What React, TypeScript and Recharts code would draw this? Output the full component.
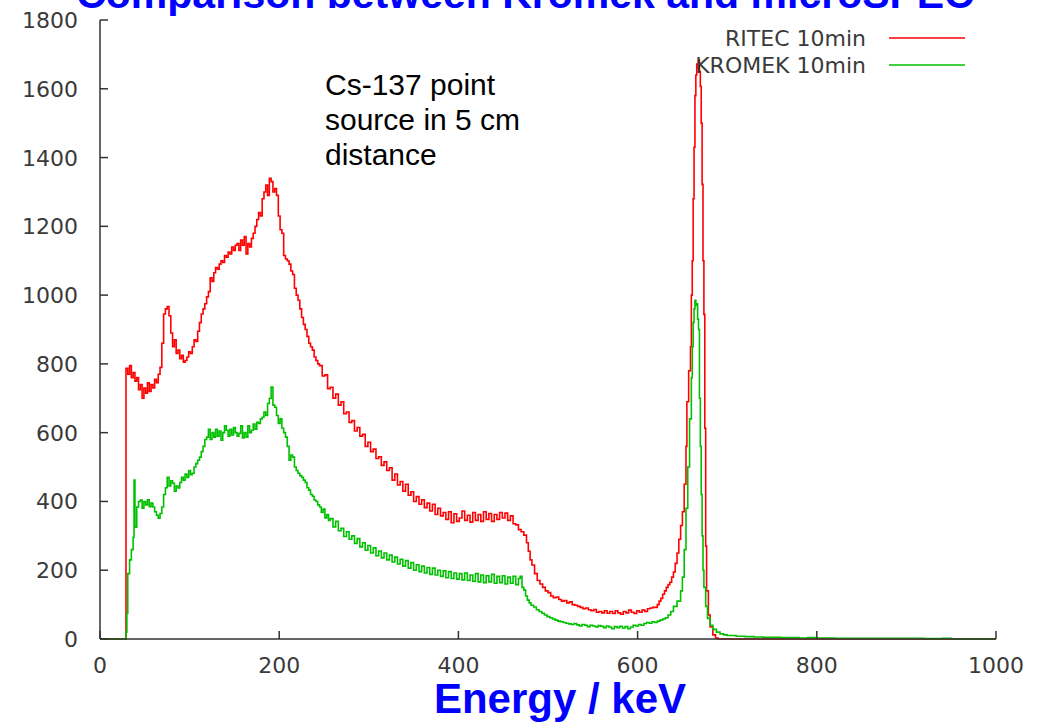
import React from 'react';
import { LineChart, Line, XAxis, YAxis, Legend } from 'recharts';

// [energy keV, counts]
const RITEC_10MIN: [number, number][] = [
  [0, 0], [28, 0], [29, 787], [31, 770], [33, 795], [35, 760], [37, 775], [39, 750],
  [41, 760], [43, 725], [45, 740], [47, 700], [49, 730], [51, 715], [53, 745], [55, 720],
  [57, 740], [59, 730], [61, 755], [63, 745], [65, 770], [67, 790], [69, 860], [71, 945],
  [73, 960], [75, 967], [77, 940], [79, 890], [81, 850], [83, 870], [85, 830], [87, 840],
  [89, 815], [91, 825], [93, 805], [95, 810], [97, 820], [99, 835], [101, 830], [103, 850],
  [105, 870], [107, 865], [109, 895], [111, 920], [113, 945], [115, 960], [117, 975], [119, 995],
  [121, 1010], [123, 1050], [125, 1040], [127, 1065], [129, 1080], [131, 1075], [133, 1090], [135, 1100],
  [137, 1095], [139, 1115], [141, 1110], [143, 1125], [145, 1120], [147, 1140], [149, 1130], [151, 1145],
  [153, 1150], [155, 1130], [157, 1160], [159, 1145], [161, 1170], [163, 1120], [165, 1150], [167, 1140],
  [169, 1165], [171, 1180], [173, 1200], [175, 1220], [177, 1240], [179, 1230], [181, 1280], [183, 1300],
  [185, 1320], [187, 1290], [189, 1340], [191, 1330], [193, 1300], [195, 1310], [197, 1290], [199, 1230],
  [201, 1190], [203, 1180], [205, 1115], [207, 1105], [209, 1100], [211, 1090], [213, 1070], [215, 1060],
  [217, 1020], [219, 1000], [221, 985], [223, 960], [225, 935], [227, 915], [229, 900], [231, 880],
  [233, 860], [235, 850], [237, 840], [239, 820], [241, 810], [243, 800], [245, 795], [248, 765],
  [251, 768], [254, 728], [257, 732], [260, 700], [263, 712], [266, 680], [269, 690], [272, 655],
  [275, 660], [278, 630], [281, 635], [284, 605], [287, 615], [290, 590], [293, 595], [296, 560],
  [299, 572], [302, 545], [305, 552], [308, 525], [311, 530], [314, 505], [317, 515], [320, 490],
  [323, 498], [326, 462], [329, 480], [332, 448], [335, 458], [338, 430], [341, 450], [344, 418],
  [347, 428], [350, 400], [353, 414], [356, 392], [359, 405], [362, 382], [365, 395], [368, 372],
  [371, 392], [374, 362], [377, 380], [380, 358], [383, 368], [386, 348], [389, 370], [392, 338],
  [395, 364], [398, 342], [401, 352], [404, 372], [407, 345], [410, 360], [413, 340], [416, 368],
  [419, 345], [422, 362], [425, 342], [428, 370], [431, 348], [434, 365], [437, 342], [440, 362],
  [443, 348], [446, 368], [449, 352], [452, 366], [455, 345], [458, 358], [461, 335], [464, 332],
  [467, 318], [470, 312], [473, 302], [476, 280], [478, 255], [480, 230], [482, 215], [485, 190],
  [488, 170], [491, 160], [494, 150], [497, 140], [500, 135], [503, 125], [506, 120], [509, 122],
  [512, 115], [515, 110], [518, 112], [521, 105], [524, 108], [527, 100], [530, 98], [533, 95],
  [536, 92], [539, 88], [542, 90], [545, 85], [548, 82], [551, 86], [554, 78], [557, 80],
  [560, 76], [563, 82], [566, 75], [569, 80], [572, 74], [575, 82], [578, 76], [581, 72],
  [584, 80], [587, 76], [590, 84], [593, 78], [596, 74], [599, 82], [602, 78], [605, 84],
  [608, 80], [611, 88], [614, 90], [617, 92], [620, 92], [622, 100], [624, 110], [626, 118],
  [628, 130], [630, 140], [632, 150], [634, 158], [636, 165], [638, 180], [640, 195], [642, 220],
  [644, 250], [646, 290], [648, 330], [650, 370], [652, 450], [654, 560], [655, 690], [657, 780],
  [659, 850], [660, 1000], [661, 1100], [662, 1280], [663, 1430], [664, 1580], [665, 1640], [666, 1672],
  [667, 1660], [668, 1683], [669, 1650], [670, 1607], [671, 1500], [672, 1322], [673, 1100], [674, 944],
  [675, 613], [676, 270], [677, 140], [679, 70], [681, 35], [684, 12], [687, 3], [690, 0],
  [1000, 0],
];

const KROMEK_10MIN: [number, number][] = [
  [0, 0], [28, 0], [29, 20], [30, 75], [31, 190], [33, 230], [35, 260], [37, 296],
  [38, 462], [39, 325], [41, 384], [43, 400], [45, 404], [47, 380], [49, 400], [51, 390],
  [53, 405], [55, 385], [57, 395], [59, 384], [61, 370], [63, 360], [65, 351], [67, 365],
  [69, 384], [71, 420], [73, 440], [75, 470], [77, 445], [79, 460], [81, 453], [83, 430],
  [85, 445], [87, 439], [89, 455], [91, 470], [93, 462], [95, 480], [97, 470], [99, 490],
  [101, 478], [103, 482], [105, 500], [107, 510], [109, 520], [111, 529], [113, 545], [115, 560],
  [117, 580], [119, 587], [121, 610], [123, 580], [125, 600], [127, 587], [129, 610], [131, 590],
  [133, 605], [135, 578], [137, 600], [139, 620], [141, 607], [143, 590], [145, 610], [147, 593],
  [149, 615], [151, 600], [153, 590], [155, 598], [157, 620], [159, 585], [161, 600], [163, 587],
  [165, 620], [167, 600], [169, 607], [171, 625], [173, 610], [175, 630], [177, 627], [179, 640],
  [181, 645], [183, 660], [185, 650], [187, 685], [189, 700], [191, 733], [193, 680], [195, 674],
  [197, 650], [199, 627], [201, 640], [203, 613], [205, 600], [207, 587], [209, 560], [211, 520],
  [213, 535], [215, 529], [217, 500], [219, 490], [221, 482], [223, 475], [225, 470], [227, 462],
  [229, 455], [231, 440], [233, 433], [235, 420], [237, 415], [239, 404], [241, 400], [243, 390],
  [245, 384], [247, 368], [249, 378], [251, 352], [253, 362], [255, 345], [257, 350], [260, 326],
  [263, 342], [266, 315], [269, 322], [272, 298], [275, 312], [278, 290], [281, 300], [284, 278],
  [287, 292], [290, 268], [293, 280], [296, 258], [299, 272], [302, 250], [305, 265], [308, 242],
  [311, 256], [314, 236], [317, 250], [320, 230], [323, 244], [326, 224], [329, 238], [332, 218],
  [335, 232], [338, 212], [341, 228], [344, 206], [347, 222], [350, 200], [353, 216], [356, 196],
  [359, 212], [362, 192], [365, 208], [368, 188], [371, 206], [374, 186], [377, 200], [380, 182],
  [383, 198], [386, 178], [389, 196], [392, 176], [395, 192], [398, 174], [401, 190], [404, 172],
  [407, 192], [410, 170], [413, 186], [416, 168], [419, 190], [422, 166], [425, 186], [428, 164],
  [431, 184], [434, 166], [437, 188], [440, 162], [443, 182], [446, 164], [449, 184], [452, 160],
  [455, 180], [458, 162], [461, 182], [464, 158], [467, 176], [469, 182], [471, 150], [473, 142],
  [475, 125], [477, 113], [479, 105], [481, 98], [484, 93], [487, 85], [490, 80], [493, 75],
  [496, 70], [499, 65], [502, 62], [505, 58], [508, 55], [511, 52], [514, 50], [517, 48],
  [520, 46], [523, 44], [526, 42], [529, 45], [532, 41], [535, 38], [538, 42], [541, 40],
  [544, 36], [547, 40], [550, 38], [553, 35], [556, 39], [559, 37], [562, 33], [565, 38],
  [568, 35], [571, 30], [574, 36], [577, 33], [580, 37], [583, 32], [586, 36], [589, 30],
  [592, 35], [595, 40], [598, 38], [601, 42], [604, 40], [607, 45], [610, 48], [613, 46],
  [616, 50], [619, 48], [622, 52], [625, 55], [628, 58], [631, 62], [634, 70], [637, 80],
  [640, 95], [644, 110], [648, 140], [650, 180], [652, 260], [654, 380], [656, 500], [658, 640],
  [660, 760], [661, 850], [662, 920], [663, 960], [664, 985], [665, 970], [666, 975], [667, 930],
  [668, 900], [669, 700], [670, 560], [671, 420], [672, 300], [673, 200], [674, 150], [676, 95],
  [678, 60], [681, 40], [684, 28], [688, 20], [692, 15], [696, 12], [700, 10], [710, 8],
  [720, 7], [730, 6], [740, 5], [750, 5], [760, 4], [770, 4], [780, 3], [790, 4],
  [800, 3], [810, 3], [820, 2], [840, 2], [860, 2], [880, 2], [900, 2], [920, 1],
  [940, 2], [950, 0], [1000, 0],
];

const SERIES_NAMES = ['RITEC 10min', 'KROMEK 10min'];
const X_TICKS = [0, 200, 400, 600, 800, 1000];
const Y_TICKS = [0, 200, 400, 600, 800, 1000, 1200, 1400, 1600, 1800];
const NOTE_LINES = ['Cs-137 point', 'source in 5 cm', 'distance'];

const FRAME = '#333333';
const TICK_FONT = '"DejaVu Sans", sans-serif';
const TICK_FILL = '#3a3a3a';

const ritecData = RITEC_10MIN.map(([e, c]) => ({ e, c }));
const kromekData = KROMEK_10MIN.map(([e, c]) => ({ e, c }));

const BottomTick = ({ x, y, payload }: any) => (
  <g>
    <line x1={x} y1={y} x2={x} y2={y - 8} stroke={FRAME} strokeWidth={1.5} />
    <text x={x} y={y + 34} textAnchor="middle" fontFamily={TICK_FONT} fontSize={22} fill={TICK_FILL}>
      {payload.value}
    </text>
  </g>
);

const TopTick = ({ x, y }: any) => (
  <line x1={x} y1={y} x2={x} y2={y + 8} stroke={FRAME} strokeWidth={1.5} />
);

const LeftTick = ({ x, y, payload }: any) => (
  <g>
    <line x1={x} y1={y} x2={x + 8} y2={y} stroke={FRAME} strokeWidth={1.5} />
    <text x={x - 22} y={y + 8} textAnchor="end" fontFamily={TICK_FONT} fontSize={22} fill={TICK_FILL}>
      {payload.value}
    </text>
  </g>
);

const RightTick = ({ x, y }: any) => (
  <line x1={x} y1={y} x2={x - 8} y2={y} stroke={FRAME} strokeWidth={1.5} />
);

const LegendBox = ({ payload }: any) => {
  const items = [...(payload || [])].sort(
    (a: any, b: any) => SERIES_NAMES.indexOf(a.value) - SERIES_NAMES.indexOf(b.value)
  );
  return (
    <svg width={400} height={60}>
      {items.map((p: any, i: number) => (
        <g key={p.value}>
          <text x={266} y={21 + i * 27} textAnchor="end" fontFamily={TICK_FONT} fontSize={22} fill={TICK_FILL}>
            {p.value}
          </text>
          <line x1={289} y1={13 + i * 27} x2={365} y2={13 + i * 27} stroke={p.color} strokeWidth={1.5} />
        </g>
      ))}
    </svg>
  );
};

export default function App() {
  return (
    <div style={{ position: 'absolute', left: 0, top: 0, width: 1039, height: 722, background: '#fff' }}>
      <LineChart width={1039} height={722} margin={{ top: 20, right: 43, bottom: 0, left: 0 }}>
        <XAxis
          xAxisId="b"
          dataKey="e"
          type="number"
          domain={[0, 1000]}
          ticks={X_TICKS}
          interval={0}
          height={83}
          tickSize={0}
          tickMargin={0}
          tickLine={false}
          axisLine={{ stroke: FRAME, strokeWidth: 1.5 }}
          tick={<BottomTick />}
        />
        <XAxis
          xAxisId="t"
          orientation="top"
          dataKey="e"
          type="number"
          domain={[0, 1000]}
          ticks={X_TICKS}
          interval={0}
          height={0}
          tickSize={0}
          tickMargin={0}
          tickLine={false}
          axisLine={{ stroke: FRAME, strokeWidth: 1.5 }}
          tick={<TopTick />}
        />
        <YAxis
          yAxisId="l"
          type="number"
          domain={[0, 1800]}
          ticks={Y_TICKS}
          interval={0}
          width={100}
          tickSize={0}
          tickMargin={0}
          tickLine={false}
          axisLine={{ stroke: FRAME, strokeWidth: 1.5 }}
          tick={<LeftTick />}
        />
        <YAxis
          yAxisId="r"
          orientation="right"
          type="number"
          domain={[0, 1800]}
          ticks={Y_TICKS}
          interval={0}
          width={0}
          tickSize={0}
          tickMargin={0}
          tickLine={false}
          axisLine={{ stroke: FRAME, strokeWidth: 1.5 }}
          tick={<RightTick />}
        />
        <Legend
          layout="horizontal"
          verticalAlign="middle"
          align="center"
          content={<LegendBox />}
          wrapperStyle={{ position: 'absolute', left: 600, top: 25, width: 400, height: 60 }}
        />
        <Line
          xAxisId="b"
          yAxisId="l"
          data={ritecData}
          dataKey="c"
          name="RITEC 10min"
          type="stepAfter"
          stroke="#ff0000"
          strokeWidth={1.6}
          dot={false}
          isAnimationActive={false}
        />
        <Line
          xAxisId="b"
          yAxisId="l"
          data={kromekData}
          dataKey="c"
          name="KROMEK 10min"
          type="stepAfter"
          stroke="#00c000"
          strokeWidth={1.6}
          dot={false}
          isAnimationActive={false}
        />
      </LineChart>
      <svg
        width={1039}
        height={722}
        style={{ position: 'absolute', left: 0, top: 0, pointerEvents: 'none' }}
      >
        <text
          x={525}
          y={8}
          textAnchor="middle"
          fontFamily='"Liberation Sans", Arial, sans-serif'
          fontWeight="bold"
          fontSize={41}
          fill="#0000ff"
        >
          Comparison between Kromek and microSPEC
        </text>
        {NOTE_LINES.map((t, i) => (
          <text
            key={t}
            x={325}
            y={95 + i * 35}
            fontFamily='"Liberation Sans", Arial, sans-serif'
            fontSize={30}
            fill="#000"
          >
            {t}
          </text>
        ))}
        <text
          x={560}
          y={713}
          textAnchor="middle"
          fontFamily='"Liberation Sans", Arial, sans-serif'
          fontWeight="bold"
          fontSize={42}
          fill="#0000ff"
        >
          Energy / keV
        </text>
      </svg>
    </div>
  );
}
